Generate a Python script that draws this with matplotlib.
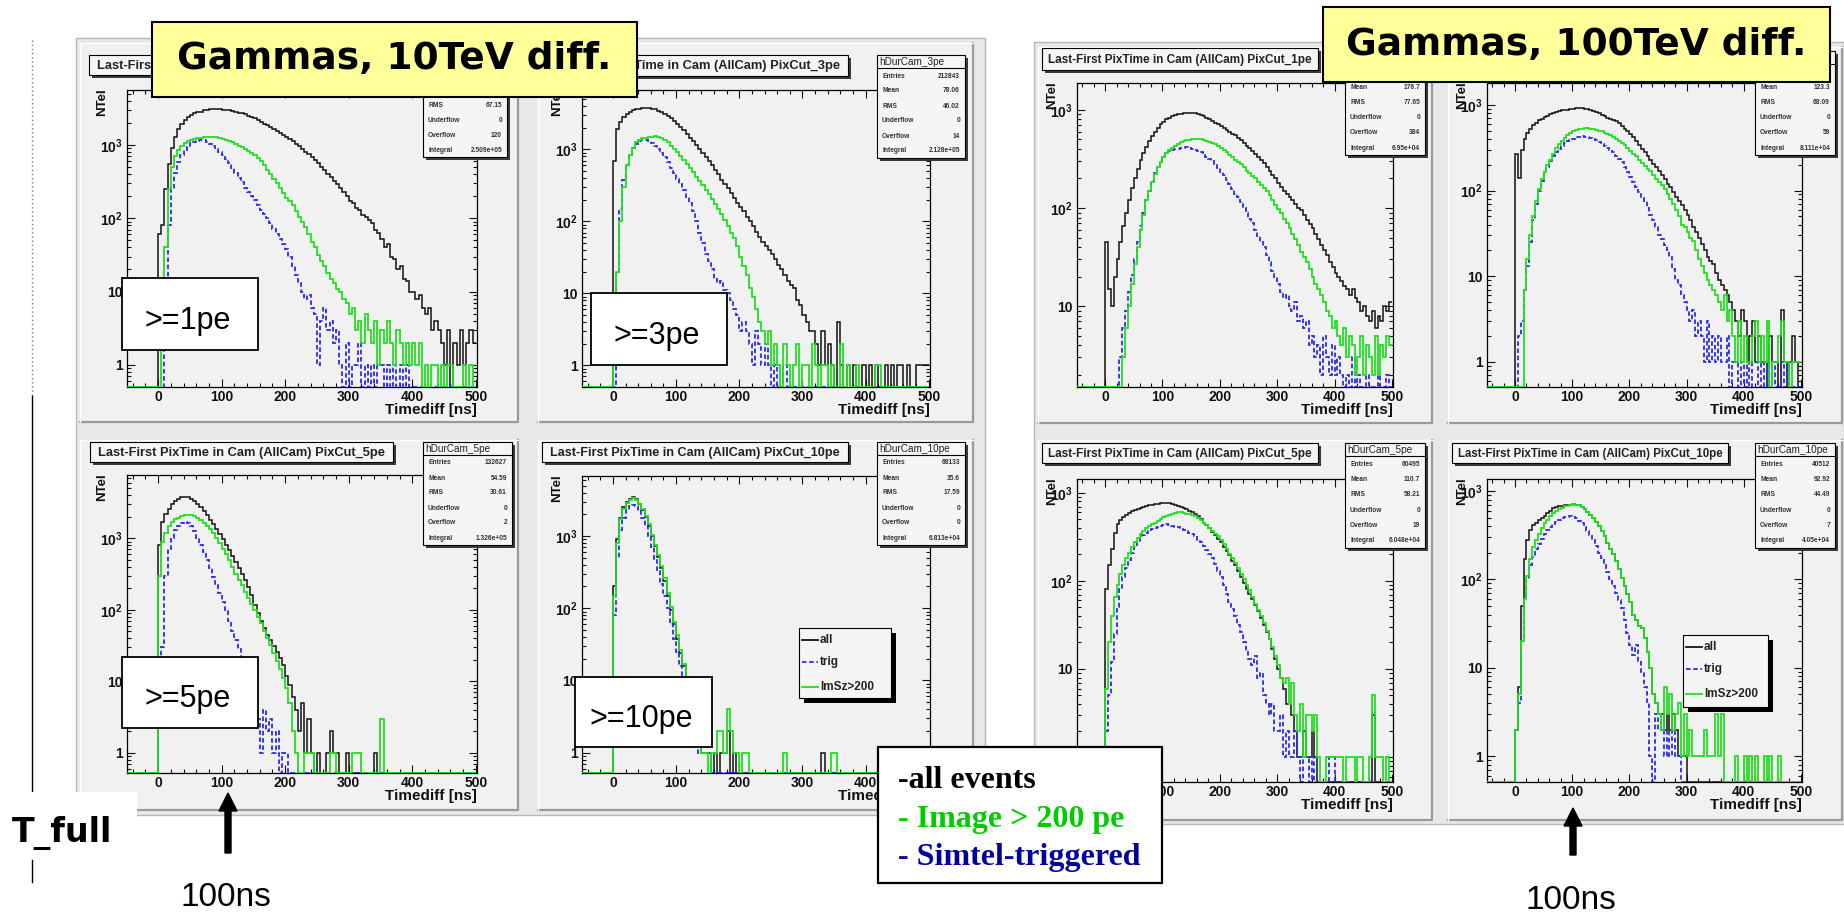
import matplotlib
matplotlib.use('Agg')
import matplotlib.pyplot as plt
from matplotlib.patches import Rectangle, FancyArrow
from matplotlib.ticker import MultipleLocator, LogLocator, FuncFormatter, NullFormatter
import numpy as np

plt.rcParams['font.family'] = 'Liberation Sans'
plt.rcParams['font.weight'] = 'bold'
plt.rcParams['mathtext.fontset'] = 'custom'
plt.rcParams['mathtext.bf'] = 'Liberation Sans:bold'
plt.rcParams['mathtext.rm'] = 'Liberation Sans'

W, H = 1844, 913

# Timediff histograms, 5 ns bins from 0 to 500 ns
# 10 TeV gammas
ten_1pe_all = [60, 80, 250, 550, 900, 1300, 1650, 1950, 2200, 2400, 2550, 2700, 2800, 2850, 2950, 3000, 3050, 3050, 3050, 3050,
               3000, 3000, 2950, 2900, 2850, 2750, 2700, 2600, 2500, 2400, 2300, 2200, 2080, 1950, 1850, 1750, 1650, 1550, 1450, 1350,
               1300, 1200, 1120, 1040, 960, 880, 800, 740, 680, 620, 560, 500, 450, 400, 360, 320, 290, 260, 230, 200,
               170, 160, 140, 130, 110, 105, 95, 85, 70, 62, 52, 40, 45, 30, 28, 20, 22, 15, 14, 10,
               10, 8, 9, 6, 5, 6, 3, 4, 3, 2, 1, 3, 0, 2, 1, 3, 1, 2, 3, 2]
ten_1pe_img = [0, 2, 40, 250, 500, 700, 850, 980, 1050, 1120, 1170, 1200, 1230, 1260, 1280, 1300, 1300, 1290, 1270, 1240,
               1220, 1180, 1130, 1080, 1030, 980, 930, 880, 830, 770, 720, 660, 600, 530, 460, 400, 340, 300, 260, 220,
               190, 170, 150, 125, 105, 90, 75, 60, 48, 40, 32, 26, 22, 18, 15, 13, 11, 10, 8, 7,
               5, 6, 3, 4, 2, 5, 3, 2, 4, 1, 3, 2, 4, 2, 1, 3, 2, 1, 2, 1,
               2, 1, 2, 0, 1, 0, 1, 1, 0, 1, 0, 1, 1, 0, 0, 0, 1, 0, 1, 0]
ten_1pe_trig = [0, 0, 8, 80, 250, 420, 580, 720, 850, 950, 1050, 1100, 1140, 1160, 1150, 1100, 1030, 960, 880, 800,
                720, 640, 560, 480, 410, 350, 310, 260, 230, 200, 175, 150, 130, 115, 100, 85, 72, 60, 52, 45,
                38, 30, 22, 17, 13, 10, 8, 9, 6, 5, 1, 4, 6, 3, 4, 2, 3, 1, 0, 2,
                0, 1, 1, 2, 0, 1, 0, 1, 0, 1, 1, 0, 1, 0, 1, 0, 1, 0, 1, 0,
                0, 0, 0, 0, 0, 0, 0, 0, 0, 0, 0, 0, 0, 0, 0, 0, 0, 0, 0, 0]

ten_3pe_all = [700, 1900, 2400, 2800, 3100, 3300, 3500, 3600, 3700, 3800, 3800, 3750, 3700, 3600, 3450, 3300, 3100, 2900, 2700, 2450,
               2250, 2050, 1850, 1650, 1450, 1300, 1150, 1000, 900, 780, 700, 600, 520, 450, 380, 330, 290, 250, 210, 180,
               160, 140, 115, 100, 85, 72, 60, 52, 45, 40, 35, 30, 25, 22, 18, 15, 13, 12, 8, 7,
               5, 4, 3, 3, 2, 1, 3, 1, 2, 1, 0, 4, 1, 0, 1, 0, 1, 0, 0, 1,
               0, 1, 0, 1, 0, 0, 1, 0, 1, 0, 1, 1, 0, 1, 0, 0, 1, 1, 1, 1]
ten_3pe_img = [8, 20, 100, 300, 600, 850, 1050, 1250, 1350, 1420, 1450, 1480, 1500, 1520, 1500, 1450, 1350, 1250, 1130, 1020,
               920, 820, 720, 630, 550, 480, 420, 370, 320, 275, 240, 205, 175, 150, 125, 105, 85, 70, 58, 45,
               32, 24, 18, 12, 9, 6, 4, 3, 2, 3, 1, 2, 1, 0, 2, 1, 0, 1, 2, 0,
               1, 1, 0, 2, 1, 0, 1, 1, 0, 1, 0, 0, 2, 0, 1, 0, 0, 1, 0, 0,
               0, 0, 0, 1, 1, 0, 0, 0, 0, 0, 0, 0, 0, 0, 0, 0, 0, 0, 0, 0]
ten_3pe_trig = [0, 20, 150, 380, 600, 850, 1050, 1200, 1300, 1350, 1350, 1300, 1230, 1120, 1000, 900, 780, 670, 560, 470,
                390, 330, 270, 220, 180, 140, 100, 70, 50, 35, 28, 22, 16, 14, 15, 11, 10, 8, 6, 5,
                3, 4, 3, 2, 1, 3, 2, 1, 2, 1, 0, 1, 0, 0, 1, 0, 0, 0, 0, 0,
                0, 0, 0, 0, 0, 0, 0, 0, 0, 0, 0, 0, 0, 0, 0, 0, 0, 0, 0, 0,
                0, 0, 0, 0, 0, 0, 0, 0, 0, 0, 0, 0, 0, 0, 0, 0, 0, 0, 0, 0]

ten_5pe_all = [800, 1700, 2200, 2600, 3000, 3300, 3600, 3750, 3850, 3800, 3600, 3350, 3050, 2750, 2400, 2100, 1800, 1600, 1350, 1150,
               980, 820, 680, 560, 470, 390, 320, 260, 210, 160, 115, 90, 70, 55, 45, 38, 31, 26, 21, 17,
               12, 9, 6, 4, 2, 5, 1, 3, 1, 0, 1, 0, 0, 1, 2, 1, 1, 0, 0, 1,
               0, 0, 0, 0, 0, 0, 0, 0, 1, 0, 0, 0, 0, 0, 0, 0, 0, 0, 0, 0,
               0, 0, 0, 0, 0, 0, 0, 0, 0, 0, 0, 0, 0, 0, 0, 0, 0, 0, 0, 0]
ten_5pe_img = [300, 900, 1200, 1500, 1700, 1850, 1950, 2050, 2100, 2150, 2150, 2050, 1950, 1800, 1650, 1500, 1350, 1200, 1000, 850,
               720, 600, 490, 400, 320, 260, 220, 180, 145, 120, 98, 80, 65, 50, 40, 32, 25, 19, 15, 11,
               8, 5, 2, 1, 0, 0, 1, 1, 1, 0, 0, 0, 0, 0, 1, 1, 0, 0, 0, 0,
               0, 1, 1, 1, 0, 0, 0, 0, 0, 0, 3, 0, 0, 0, 0, 0, 0, 0, 0, 0,
               0, 0, 0, 0, 0, 0, 0, 0, 0, 0, 0, 0, 0, 0, 0, 0, 0, 0, 0, 0]
ten_5pe_trig = [5, 30, 300, 700, 1000, 1300, 1500, 1650, 1700, 1650, 1500, 1250, 1000, 820, 650, 500, 380, 290, 220, 170,
                130, 95, 70, 50, 38, 28, 20, 14, 9, 6, 4, 3, 1, 4, 2, 3, 1, 2, 0, 1,
                1, 0, 0, 0, 0, 0, 0, 0, 0, 0, 0, 0, 0, 0, 0, 0, 0, 0, 0, 0,
                0, 0, 0, 0, 0, 0, 0, 0, 0, 0, 0, 0, 0, 0, 0, 0, 0, 0, 0, 0,
                0, 0, 0, 0, 0, 0, 0, 0, 0, 0, 0, 0, 0, 0, 0, 0, 0, 0, 0, 0]

ten_10pe_all = [200, 900, 1800, 2500, 3000, 3300, 3500, 3300, 2800, 2300, 1850, 1400, 1000, 720, 520, 360, 240, 150, 95, 60,
                38, 24, 16, 10, 7, 4, 3, 2, 1, 1, 1, 0, 1, 0, 1, 1, 2, 0, 1, 0,
                0, 0, 0, 0, 0, 0, 0, 0, 0, 0, 0, 0, 0, 0, 0, 0, 0, 0, 0, 0,
                0, 0, 0, 0, 0, 0, 1, 0, 0, 0, 0, 0, 0, 0, 0, 0, 0, 0, 0, 0,
                0, 0, 0, 0, 0, 0, 0, 0, 0, 0, 0, 0, 0, 0, 0, 0, 0, 0, 0, 0]
ten_10pe_img = [150, 800, 1700, 2400, 2900, 3200, 3350, 3200, 2800, 2350, 1900, 1450, 1050, 760, 550, 380, 260, 165, 105, 65,
                42, 26, 17, 11, 7, 5, 3, 2, 1, 1, 0, 1, 1, 2, 2, 1, 4, 2, 1, 1,
                0, 1, 1, 0, 0, 0, 0, 0, 0, 0, 0, 0, 0, 0, 1, 0, 0, 0, 0, 0,
                0, 0, 0, 0, 0, 0, 0, 0, 0, 1, 1, 0, 0, 0, 0, 0, 0, 0, 0, 0,
                0, 0, 0, 0, 0, 0, 0, 0, 0, 0, 0, 0, 0, 0, 0, 0, 0, 0, 0, 0]
ten_10pe_trig = [80, 500, 1200, 1800, 2300, 2600, 2700, 2600, 2200, 1800, 1400, 1000, 700, 480, 330, 220, 150, 100, 60, 38,
                 25, 16, 10, 6, 4, 3, 2, 1, 1, 1, 1, 0, 0, 0, 0, 0, 0, 0, 0, 0,
                 0, 0, 0, 0, 0, 0, 0, 0, 0, 0, 0, 0, 0, 0, 0, 0, 0, 0, 0, 0,
                 0, 0, 0, 0, 0, 0, 0, 0, 0, 0, 0, 0, 0, 0, 0, 0, 0, 0, 0, 0,
                 0, 0, 0, 0, 0, 0, 0, 0, 0, 0, 0, 0, 0, 0, 0, 0, 0, 0, 0, 0]

# 100 TeV gammas
hun_1pe_all = [45, 15, 10, 20, 30, 45, 65, 90, 120, 160, 200, 250, 310, 360, 420, 480, 540, 600, 660, 720,
               760, 800, 830, 860, 880, 900, 910, 925, 930, 935, 930, 920, 900, 880, 860, 830, 800, 770, 740, 710,
               680, 650, 620, 600, 570, 550, 520, 490, 460, 430, 410, 380, 355, 330, 310, 285, 260, 240, 215, 200,
               180, 165, 150, 140, 130, 120, 110, 100, 95, 85, 75, 68, 62, 55, 48, 42, 37, 33, 28, 25,
               22, 20, 18, 16, 15, 13, 15, 12, 11, 9, 10, 8, 7, 9, 6, 8, 7, 10, 9, 11]
hun_1pe_img = [0, 0, 0, 0, 0, 0, 3, 6, 10, 17, 27, 40, 60, 85, 120, 150, 185, 220, 260, 295,
               330, 360, 390, 410, 430, 450, 470, 480, 490, 495, 500, 505, 500, 500, 490, 480, 470, 460, 450, 430,
               410, 390, 370, 350, 330, 310, 295, 280, 260, 240, 225, 210, 200, 185, 170, 160, 150, 135, 120, 108,
               98, 88, 78, 70, 62, 55, 48, 42, 36, 32, 28, 24, 20, 17, 15, 13, 11, 9, 8, 6,
               7, 5, 4, 6, 3, 5, 4, 2, 3, 5, 2, 4, 3, 2, 5, 2, 4, 3, 5, 4]
hun_1pe_trig = [0, 0, 0, 0, 0, 3, 6, 9, 14, 21, 30, 45, 65, 90, 120, 150, 190, 225, 260, 300,
                340, 365, 380, 390, 395, 400, 405, 410, 415, 410, 400, 390, 380, 370, 350, 330, 315, 300, 280, 255,
                235, 215, 195, 175, 155, 140, 130, 115, 100, 88, 78, 70, 60, 52, 45, 40, 33, 28, 23, 20,
                17, 14, 12, 13, 10, 9, 11, 7, 8, 6, 7, 4, 5, 3, 4, 2, 5, 3, 2, 4,
                2, 3, 2, 1, 2, 1, 3, 1, 2, 1, 0, 2, 1, 0, 1, 2, 0, 1, 2, 1]

hun_3pe_all = [270, 140, 300, 400, 470, 530, 580, 620, 660, 690, 720, 750, 780, 800, 820, 840, 860, 870, 880, 890,
               900, 910, 920, 915, 900, 890, 870, 850, 820, 800, 770, 740, 710, 690, 660, 640, 610, 570, 530, 500,
               460, 420, 380, 340, 305, 280, 255, 230, 205, 190, 170, 150, 135, 120, 110, 95, 85, 75, 68, 60,
               52, 45, 38, 33, 28, 24, 20, 17, 15, 14, 11, 9, 8, 7, 6, 5, 4, 3, 2, 4,
               3, 1, 2, 3, 1, 2, 1, 1, 0, 2, 1, 1, 0, 4, 1, 0, 1, 2, 1, 0]
hun_3pe_img = [0, 0, 0, 7, 16, 30, 50, 75, 105, 135, 165, 200, 230, 270, 310, 345, 380, 410, 440, 465,
               490, 505, 520, 530, 540, 540, 530, 520, 510, 500, 490, 475, 460, 445, 420, 400, 380, 360, 340, 310,
               290, 270, 250, 230, 210, 195, 180, 170, 150, 135, 125, 115, 105, 92, 80, 70, 60, 50, 40, 38,
               33, 28, 26, 20, 16, 13, 11, 9, 8, 7, 6, 5, 4, 6, 3, 4, 2, 1, 3, 1,
               2, 1, 1, 2, 3, 1, 2, 1, 3, 0, 1, 1, 2, 3, 1, 1, 0, 1, 1, 1]
hun_3pe_trig = [0, 2, 3, 7, 13, 25, 45, 70, 100, 130, 165, 190, 220, 250, 280, 305, 330, 355, 375, 390,
                405, 420, 425, 430, 425, 420, 410, 400, 385, 365, 350, 330, 315, 300, 280, 255, 235, 215, 190, 165,
                145, 125, 110, 95, 82, 75, 62, 52, 45, 38, 30, 27, 23, 20, 17, 12, 9, 8, 6, 5,
                4, 3, 4, 2, 3, 2, 1, 3, 1, 2, 1, 2, 1, 1, 2, 0, 1, 1, 0, 1,
                0, 1, 0, 1, 1, 0, 1, 0, 1, 0, 1, 0, 0, 1, 0, 1, 0, 0, 0, 0]

hun_5pe_all = [80, 150, 230, 350, 440, 490, 530, 560, 590, 620, 645, 665, 680, 700, 710, 720, 730, 740, 750, 760,
               770, 770, 765, 750, 730, 710, 690, 670, 650, 630, 600, 570, 540, 500, 460, 430, 400, 360, 330, 300,
               275, 245, 220, 195, 170, 150, 130, 110, 95, 82, 72, 62, 54, 46, 38, 32, 26, 22, 17, 13,
               10, 8, 6, 4, 4, 3, 2, 1, 1, 2, 1, 1, 2, 1, 0, 0, 0, 0, 0, 0,
               0, 0, 0, 0, 0, 0, 0, 0, 0, 0, 0, 0, 0, 3, 0, 0, 0, 0, 0, 0]
hun_5pe_img = [6, 20, 40, 65, 90, 120, 150, 180, 210, 240, 275, 310, 340, 370, 395, 420, 440, 460, 480, 500,
               530, 550, 565, 575, 590, 600, 600, 590, 580, 570, 560, 540, 520, 490, 460, 430, 400, 370, 340, 320,
               290, 260, 230, 200, 180, 160, 140, 120, 105, 90, 78, 66, 55, 47, 40, 33, 27, 22, 18, 14,
               11, 8, 7, 8, 4, 7, 3, 2, 4, 1, 3, 3, 2, 3, 1, 0, 0, 1, 1, 1,
               1, 1, 1, 0, 1, 1, 1, 0, 1, 1, 0, 0, 1, 5, 1, 1, 1, 0, 1, 0]
hun_5pe_trig = [2, 5, 12, 25, 50, 80, 110, 140, 175, 210, 240, 275, 305, 330, 350, 370, 385, 400, 410, 420,
                430, 440, 435, 425, 415, 405, 390, 375, 365, 355, 340, 320, 295, 275, 250, 225, 200, 180, 155, 130,
                110, 90, 72, 58, 48, 40, 32, 26, 20, 16, 13, 11, 14, 8, 9, 5, 4, 3, 4, 2,
                2, 3, 1, 2, 1, 1, 2, 1, 0, 1, 1, 0, 1, 0, 0, 0, 0, 0, 1, 1,
                0, 0, 0, 0, 0, 0, 0, 0, 0, 0, 0, 0, 0, 0, 0, 0, 0, 0, 0, 0]

hun_10pe_all = [2, 6, 50, 170, 280, 360, 410, 440, 470, 500, 520, 560, 600, 640, 660, 670, 680, 690, 700, 700,
                710, 700, 690, 660, 620, 580, 540, 500, 450, 400, 350, 310, 260, 220, 195, 160, 130, 105, 85, 68,
                55, 40, 35, 30, 28, 22, 15, 10, 5, 4, 3, 3, 2, 3, 2, 3, 2, 1, 1, 1,
                0, 0, 0, 0, 0, 0, 0, 0, 0, 0, 0, 0, 0, 0, 0, 0, 0, 0, 0, 0,
                0, 0, 0, 0, 0, 0, 0, 0, 0, 0, 0, 0, 0, 0, 0, 0, 0, 0, 0, 0]
hun_10pe_img = [2, 5, 20, 60, 110, 170, 230, 280, 330, 380, 430, 470, 520, 560, 600, 630, 650, 670, 680, 700,
                710, 700, 690, 660, 620, 580, 540, 500, 450, 400, 350, 310, 260, 220, 195, 160, 130, 105, 85, 68,
                55, 40, 35, 30, 28, 22, 15, 10, 5, 4, 3, 2, 6, 3, 5, 2, 3, 4, 1, 3,
                1, 2, 1, 1, 1, 1, 2, 1, 1, 1, 3, 1, 3, 0, 0, 0, 0, 1, 0, 0,
                1, 0, 1, 0, 1, 0, 0, 1, 0, 1, 0, 0, 1, 0, 0, 0, 0, 0, 0, 0]
hun_10pe_trig = [2, 4, 20, 60, 100, 145, 180, 220, 255, 290, 330, 360, 390, 420, 445, 470, 490, 505, 515, 520,
                 510, 490, 460, 430, 390, 350, 320, 280, 240, 200, 175, 145, 120, 100, 85, 70, 58, 48, 35, 25,
                 18, 14, 18, 12, 9, 6, 4, 1, 0, 3, 2, 3, 1, 2, 1, 2, 1, 1, 0, 0,
                 0, 0, 0, 0, 0, 0, 0, 0, 0, 0, 0, 0, 0, 0, 0, 0, 0, 0, 0, 0,
                 0, 0, 0, 0, 0, 0, 0, 0, 0, 0, 0, 0, 0, 0, 0, 0, 0, 0, 0, 0]

stat_labels = ['Entries', 'Mean', 'RMS', 'Underflow', 'Overflow', 'Integral']
stats_ten_1pe = [None, None, '67.15', '0', '120', '2.509e+05']
stats_ten_3pe = ['212843', '78.06', '46.02', '0', '14', '2.128e+05']
stats_ten_5pe = ['132627', '54.59', '30.61', '0', '2', '1.326e+05']
stats_ten_10pe = ['68133', '35.6', '17.59', '0', '0', '6.813e+04']
stats_hun_1pe = [None, '176.7', '77.65', '0', '384', '6.95e+04']
stats_hun_3pe = [None, '123.3', '68.09', '0', '59', '8.111e+04']
stats_hun_5pe = ['60495', '110.7', '58.21', '0', '19', '6.048e+04']
stats_hun_10pe = ['40512', '92.92', '44.49', '0', '7', '4.05e+04']

C_ALL, C_TRIG, C_IMG = '#111111', '#2a2af0', '#20e020'
PAD, CANVAS = '#f1f1f1', '#e8e8e8'
TITLE = 'Last-First PixTime in Cam (AllCam) PixCut_'

fig = plt.figure(figsize=(W / 100, H / 100), dpi=100)


def overlay(z, name):
    a = fig.add_axes([0, 0, 1, 1], zorder=z, label=name)
    a.set_xlim(0, W)
    a.set_ylim(H, 0)
    a.axis('off')
    return a


bg = overlay(0, 'bg')
fg = overlay(5, 'fg')

# canvases behind the pads
for x0, y0, x1, y1 in [(76, 38, 985, 815), (1034, 42, 1844, 824)]:
    bg.add_patch(Rectangle((x0, y0), x1 - x0, y1 - y0, fc=CANVAS, ec='#b8b8b8', lw=1))


def log_label(v, pos):
    e = int(round(np.log10(v)))
    if e == 0:
        return '1'
    if e == 1:
        return '10'
    return r'$\mathbf{10^{%d}}$' % e


def title_box(x0, y0, x1, y1, text, size):
    fg.add_patch(Rectangle((x0 + 3, y0 + 3), x1 - x0, y1 - y0, fc='#3a3a3a', ec='none', zorder=10))
    fg.add_patch(Rectangle((x0, y0), x1 - x0, y1 - y0, fc='#f5f5f5', ec='black', lw=0.8, zorder=11))
    if text:
        fg.text((x0 + x1) / 2, (y0 + y1) / 2 + 1, text, fontsize=size, color='#222222',
                ha='center', va='center', zorder=12)


def stat_box(x0, y0, x1, y1, name, values):
    fg.add_patch(Rectangle((x0 + 3, y0 + 3), x1 - x0, y1 - y0, fc='#3a3a3a', ec='none', zorder=10))
    fg.add_patch(Rectangle((x0, y0), x1 - x0, y1 - y0, fc='#f5f5f5', ec='black', lw=0.8, zorder=11))
    fg.plot([x0, x1], [y0 + 13, y0 + 13], color='black', lw=0.8, zorder=12)
    if name:
        fg.text(x0 + 2, y0 + 7, name, fontsize=7.2, fontweight='normal', color='#222222',
                ha='left', va='center', zorder=12)
    step = (y1 - y0 - 28) / 5
    for i, (k, v) in enumerate(zip(stat_labels, values)):
        if v is None:
            continue
        y = y0 + 21 + i * step
        fg.text(x0 + 5, y, k, fontsize=4.8, color='#333333', ha='left', va='center', zorder=12)
        fg.text(x1 - 5, y, v, fontsize=4.8, color='#333333', ha='right', va='center', zorder=12)


def legend_box(x0, y0, x1, y1):
    fg.add_patch(Rectangle((x0 + 5, y0 + 5), x1 - x0, y1 - y0, fc='black', ec='none', zorder=10))
    fg.add_patch(Rectangle((x0, y0), x1 - x0, y1 - y0, fc='#f5f5f5', ec='black', lw=0.8, zorder=11))
    rows = [('all', C_ALL, '-', 12), ('trig', C_TRIG, (0, (2.5, 1.5)), 34), ('ImSz>200', C_IMG, '-', 59)]
    for name, c, ls, dy in rows:
        fg.plot([x0 + 3, x0 + 19], [y0 + dy, y0 + dy], color=c, ls=ls, lw=1.3, zorder=12)
        fg.text(x0 + 21, y0 + dy, name, fontsize=8.5, color='#222222', ha='left', va='center', zorder=12)


def panel(pad, axr, ylim, all_v, trig_v, img_v, title, tsize, tbox, stat, name, values, cut=None):
    px0, py0, px1, py1 = pad
    bg.add_patch(Rectangle((px0, py0), px1 - px0, py1 - py0, fc=PAD, ec='none'))
    bg.plot([px0, px1, px1], [py1, py1, py0], color='#9a9a9a', lw=1.6)
    bg.plot([px0, px0, px1], [py1, py0, py0], color='white', lw=1)

    x0, y0, x1, y1 = axr
    ax = fig.add_axes([x0 / W, 1 - y1 / H, (x1 - x0) / W, (y1 - y0) / H], zorder=2)
    ax.set_facecolor('none')
    ax.set_yscale('log')
    xl = -49
    ax.set_xlim(xl, 502)
    ax.set_ylim(*ylim)
    edges = np.r_[xl, np.arange(0, 501, 5)]
    for vals, c, ls, lw in [(all_v, C_ALL, '-', 1.1), (trig_v, C_TRIG, (0, (2.5, 1.5)), 1.3),
                            (img_v, C_IMG, '-', 1.3)]:
        v = np.maximum(np.r_[0, np.asarray(vals, float)], ylim[0])
        ax.stairs(v, edges, baseline=None, color=c, ls=ls, lw=lw, zorder=3)
    ax.xaxis.set_major_locator(MultipleLocator(100))
    ax.xaxis.set_minor_locator(MultipleLocator(20))
    ax.yaxis.set_major_locator(LogLocator(base=10, numticks=10))
    ax.yaxis.set_minor_locator(LogLocator(base=10, subs=np.arange(2, 10), numticks=10))
    ax.yaxis.set_minor_formatter(NullFormatter())
    ax.yaxis.set_major_formatter(FuncFormatter(log_label))
    ax.tick_params(which='both', direction='in', top=True, right=True, width=0.8, colors='#111111',
                   labelsize=10)
    ax.tick_params(which='major', length=6)
    ax.tick_params(which='minor', length=3)
    ax.tick_params(axis='x', pad=2)
    ax.tick_params(axis='y', pad=3)
    for s in ax.spines.values():
        s.set_linewidth(0.9)

    fg.text(x1, y1 + 23, 'Timediff [ns]', fontsize=11, color='#111111', ha='right', va='center', zorder=4)
    fg.text(x0 - 25, y0 - 2, 'NTel', fontsize=9.5, color='#111111', rotation=90,
            ha='center', va='top', zorder=4)
    title_box(*tbox, TITLE + title if title else '', tsize)
    stat_box(*stat, name, values)
    if cut is not None:
        cx0, cy0, cx1, cy1, label = cut
        fg.add_patch(Rectangle((cx0, cy0), cx1 - cx0, cy1 - cy0, fc='white', ec='black', lw=1.3, zorder=15))
        fg.text((cx0 + cx1) / 2 - 2, (cy0 + cy1) / 2 + 7, label, fontsize=22, fontweight='normal',
                ha='center', va='center', zorder=16)
    return ax


panel((80, 43, 518, 422), (127, 90, 477, 387), (0.5, 5600), ten_1pe_all, ten_1pe_trig, ten_1pe_img,
      '1pe', 9.3, (89, 55, 392, 75), (423, 55, 507, 157), None, stats_ten_1pe,
      (122, 278, 258, 350, '>=1pe'))
panel((538, 43, 973, 422), (582, 90, 930, 387), (0.5, 6700), ten_3pe_all, ten_3pe_trig, ten_3pe_img,
      '3pe', 9.3, (545, 55, 848, 76), (877, 55, 965, 158), 'hDurCam_3pe', stats_ten_3pe,
      (591, 293, 727, 365, '>=3pe'))
panel((80, 440, 518, 810), (127, 475, 477, 773), (0.52, 7700), ten_5pe_all, ten_5pe_trig, ten_5pe_img,
      '5pe', 9.3, (90, 442, 393, 462), (423, 442, 512, 545), 'hDurCam_5pe', stats_ten_5pe,
      (122, 657, 258, 728, '>=5pe'))
panel((538, 440, 973, 810), (582, 476, 930, 773), (0.52, 6800), ten_10pe_all, ten_10pe_trig, ten_10pe_img,
      '10pe', 9.1, (542, 442, 848, 462), (877, 442, 965, 545), 'hDurCam_10pe', stats_ten_10pe,
      (575, 677, 712, 747, '>=10pe'))
legend_box(799, 628, 891, 698)

panel((1038, 47, 1432, 423), (1077, 83, 1393, 387), (1.5, 1880), hun_1pe_all, hun_1pe_trig, hun_1pe_img,
      '1pe', 8.5, (1042, 48, 1318, 70), (1345, 51, 1425, 155), None, stats_hun_1pe)
panel((1448, 47, 1842, 423), (1487, 83, 1802, 387), (0.51, 1800), hun_3pe_all, hun_3pe_trig, hun_3pe_img,
      None, 8.5, (1452, 48, 1728, 70), (1755, 51, 1835, 155), None, stats_hun_3pe)
panel((1038, 440, 1432, 820), (1077, 479, 1393, 782), (0.52, 1440), hun_5pe_all, hun_5pe_trig, hun_5pe_img,
      '5pe', 8.5, (1042, 443, 1318, 463), (1345, 443, 1425, 548), 'hDurCam_5pe', stats_hun_5pe)
panel((1448, 440, 1842, 820), (1487, 479, 1802, 782), (0.51, 1370), hun_10pe_all, hun_10pe_trig, hun_10pe_img,
      '10pe', 8.3, (1452, 443, 1728, 463), (1755, 443, 1835, 548), 'hDurCam_10pe', stats_hun_10pe)
legend_box(1683, 635, 1768, 707)

# headline boxes
for x0, y0, x1, y1, text in [(152, 22, 637, 97, 'Gammas, 10TeV diff.'),
                             (1323, 7, 1830, 82, 'Gammas, 100TeV diff.')]:
    fg.add_patch(Rectangle((x0, y0), x1 - x0, y1 - y0, fc='#ffff99', ec='black', lw=1.5, zorder=30))
    fg.text((x0 + x1) / 2, (y0 + y1) / 2, text, family='DejaVu Sans', fontweight='bold', fontsize=27,
            ha='center', va='center', zorder=31)

# event-class key
fg.add_patch(Rectangle((878, 747), 284, 136, fc='white', ec='black', lw=1.6, zorder=30))
for y, text, c in [(788, '-all events', 'black'), (827, '- Image > 200 pe', '#00cc00'),
                   (865, '- Simtel-triggered', '#0000a0')]:
    fg.text(898, y, text, family='Liberation Serif', fontweight='bold', fontsize=23, color=c,
            ha='left', va='baseline', zorder=31)

# T_full marker and side rule
fg.add_patch(Rectangle((0, 792), 137, 121, fc='white', ec='none', zorder=30))
fg.text(12, 842, 'T_full', family='DejaVu Sans', fontweight='bold', fontsize=24,
        ha='left', va='baseline', zorder=31)
bg.plot([32, 32], [40, 396], color='#777777', lw=1, ls=(0, (1, 2)))
bg.plot([32, 32], [396, 792], color='black', lw=1)
fg.plot([32, 32], [860, 882], color='black', lw=1, zorder=31)

# 100 ns arrows
for x, tip, tail, base in [(228, 793, 853, 906), (1573, 808, 855, 909)]:
    fg.add_patch(FancyArrow(x, tail, 0, tip - tail, width=6, head_width=18, head_length=18,
                            length_includes_head=True, color='black', zorder=31))
    fg.text(x - 2, base, '100ns', fontsize=24, fontweight='normal',
            ha='center', va='baseline', zorder=31)

fig.savefig('out.png', dpi=100)
